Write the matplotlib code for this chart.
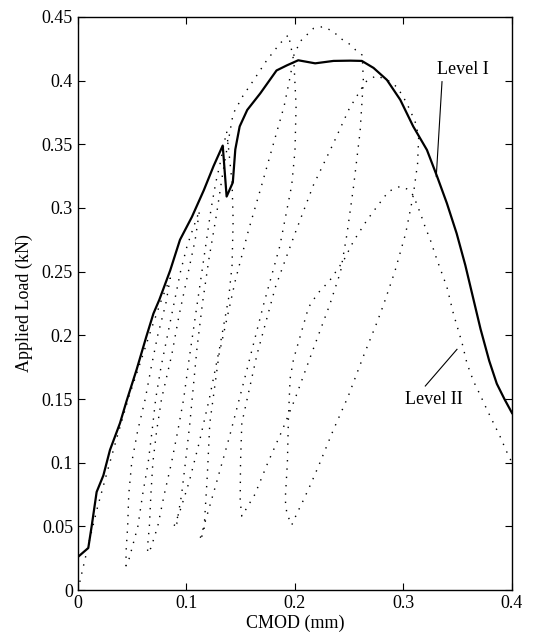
import matplotlib
matplotlib.use("Agg")
import matplotlib.pyplot as plt

plt.rcParams['font.family'] = ['Liberation Serif', 'DejaVu Serif']
plt.rcParams['font.size'] = 13

# Level I (solid) - CMOD (mm), load (kN)
level1_cmod = [0.0, 0.0095, 0.0126, 0.0172, 0.0234, 0.0295, 0.0387, 0.045, 0.054, 0.063,
               0.0695, 0.075, 0.085, 0.094, 0.105, 0.116, 0.125, 0.1334, 0.137, 0.1427,
               0.145, 0.149, 0.156, 0.168, 0.183, 0.1925, 0.203, 0.2186, 0.2355, 0.251,
               0.2616, 0.2724, 0.2847, 0.297, 0.309, 0.3216, 0.331, 0.34, 0.349, 0.357,
               0.364, 0.371, 0.379, 0.386, 0.393, 0.4]
level1_load = [0.026, 0.033, 0.05, 0.077, 0.09, 0.11, 0.131, 0.149, 0.173, 0.199,
               0.217, 0.228, 0.251, 0.275, 0.293, 0.314, 0.333, 0.349, 0.309, 0.32,
               0.346, 0.364, 0.377, 0.39, 0.408, 0.412, 0.416, 0.4136, 0.4155, 0.4157,
               0.4155, 0.41, 0.4006, 0.385, 0.364, 0.3456, 0.3247, 0.3037, 0.28, 0.255,
               0.23, 0.205, 0.18, 0.162, 0.15, 0.139]

# Level II (dotted) - loading / unloading cycles, in test order
env_a = [(0, 0), (0.004, 0.015), (0.01, 0.037), (0.018, 0.065), (0.027, 0.093), (0.037, 0.123),
         (0.047, 0.152), (0.058, 0.18), (0.068, 0.206), (0.077, 0.228), (0.085, 0.245)]
unload_1 = [(0.081, 0.225), (0.0735, 0.2), (0.0675, 0.175), (0.062, 0.15), (0.055, 0.125),
            (0.0495, 0.1), (0.0468, 0.075), (0.0458, 0.05), (0.0443, 0.03), (0.0443, 0.019)]
reload_1 = [(0.0473, 0.025), (0.0552, 0.05), (0.0596, 0.075), (0.0647, 0.1), (0.0683, 0.125),
            (0.0716, 0.15), (0.0765, 0.175), (0.0825, 0.2), (0.0885, 0.225), (0.0945, 0.25),
            (0.1005, 0.27), (0.1065, 0.285), (0.112, 0.298)]
unload_2 = [(0.108, 0.275), (0.1005, 0.245), (0.093, 0.215), (0.0865, 0.185), (0.077, 0.15),
            (0.0725, 0.125), (0.069, 0.1), (0.0672, 0.075), (0.0658, 0.05), (0.0642, 0.035),
            (0.0642, 0.029)]
reload_2 = [(0.0672, 0.033), (0.0735, 0.05), (0.0795, 0.075), (0.0862, 0.1), (0.092, 0.125),
            (0.0974, 0.15), (0.1022, 0.18), (0.1073, 0.21), (0.1125, 0.24), (0.1177, 0.27),
            (0.1228, 0.3), (0.127, 0.32), (0.131, 0.335), (0.135, 0.352), (0.137, 0.36)]
unload_3 = [(0.139, 0.345), (0.142, 0.32), (0.143, 0.29), (0.142, 0.255), (0.139, 0.23),
            (0.1305, 0.19), (0.121, 0.15), (0.1115, 0.115), (0.1025, 0.085), (0.094, 0.062),
            (0.088, 0.049)]
reload_3 = [(0.091, 0.052), (0.0955, 0.075), (0.099, 0.1), (0.103, 0.13), (0.1063, 0.16),
            (0.1097, 0.19), (0.1147, 0.225), (0.1207, 0.26), (0.1277, 0.295), (0.133, 0.325),
            (0.138, 0.35), (0.143, 0.374), (0.152, 0.388), (0.162, 0.4005), (0.174, 0.416),
            (0.186, 0.429), (0.194, 0.436)]
unload_4 = [(0.199, 0.415), (0.201, 0.38), (0.2, 0.345), (0.197, 0.318), (0.186, 0.27),
            (0.171, 0.224), (0.1548, 0.17), (0.1395, 0.12), (0.1262, 0.08), (0.116, 0.05),
            (0.112, 0.039)]
reload_4 = [(0.116, 0.045), (0.1192, 0.09), (0.1215, 0.131), (0.13, 0.185), (0.145, 0.243),
            (0.157, 0.282), (0.169, 0.317), (0.18, 0.35), (0.19, 0.38), (0.196, 0.405),
            (0.199, 0.42), (0.205, 0.431), (0.217, 0.441), (0.226, 0.4424), (0.2355, 0.4385),
            (0.2417, 0.4333), (0.2494, 0.4293), (0.256, 0.424), (0.262, 0.42)]
unload_5 = [(0.263, 0.4), (0.26, 0.36), (0.254, 0.317), (0.248, 0.28), (0.242, 0.25),
            (0.232, 0.224), (0.215, 0.185), (0.2, 0.15), (0.188, 0.125), (0.175, 0.1),
            (0.163, 0.075), (0.151, 0.058)]
reload_5 = [(0.1495, 0.07), (0.1498, 0.1), (0.151, 0.131), (0.165, 0.185), (0.182, 0.238),
            (0.2, 0.28), (0.217, 0.318), (0.235, 0.35), (0.25, 0.378), (0.265, 0.399),
            (0.275, 0.404), (0.286, 0.4), (0.294, 0.395), (0.3, 0.387), (0.306, 0.377),
            (0.311, 0.367), (0.314, 0.356)]
unload_6 = [(0.313, 0.335), (0.309, 0.31), (0.302, 0.28), (0.292, 0.25), (0.2816, 0.224),
            (0.2755, 0.21), (0.263, 0.1835), (0.249, 0.152), (0.2355, 0.126), (0.223, 0.1),
            (0.2155, 0.085), (0.208, 0.071), (0.2017, 0.06), (0.197, 0.051)]
reload_6 = [(0.1925, 0.06), (0.191, 0.071), (0.193, 0.1), (0.194, 0.136), (0.1955, 0.166),
            (0.1986, 0.181), (0.203, 0.194), (0.2125, 0.222), (0.221, 0.233), (0.232, 0.243),
            (0.245, 0.259), (0.254, 0.274), (0.266, 0.29), (0.2755, 0.301), (0.2862, 0.313),
            (0.297, 0.317), (0.303, 0.315), (0.309, 0.31)]
softening = [(0.3155, 0.296), (0.32, 0.285), (0.3247, 0.275), (0.331, 0.259), (0.34, 0.238),
             (0.346, 0.217), (0.354, 0.194), (0.3585, 0.178), (0.3646, 0.1638), (0.3708, 0.153),
             (0.377, 0.1415), (0.383, 0.131), (0.389, 0.1206), (0.395, 0.1088), (0.4, 0.1)]

level2 = (env_a + unload_1 + reload_1 + unload_2 + reload_2 + unload_3 + reload_3
          + unload_4 + reload_4 + unload_5 + reload_5 + unload_6 + reload_6 + softening)
level2_cmod = [p[0] for p in level2]
level2_load = [p[1] for p in level2]

xticks = [0, 0.1, 0.2, 0.3, 0.4]
xtick_labels = ['0', '0.1', '0.2', '0.3', '0.4']
yticks = [0, 0.05, 0.1, 0.15, 0.2, 0.25, 0.3, 0.35, 0.4, 0.45]
ytick_labels = ['0', '0.05', '0.1', '0.15', '0.2', '0.25', '0.3', '0.35', '0.4', '0.45']

fig = plt.figure(figsize=(5.43, 6.36), dpi=100)
ax = fig.add_axes([0.1436, 0.0723, 0.7993, 0.901])

ax.plot(level2_cmod, level2_load, color='black', linewidth=1.0, linestyle=(0, (1, 5)))
ax.plot(level1_cmod, level1_load, color='black', linewidth=1.6)

ax.set_xlim(0, 0.4)
ax.set_ylim(0, 0.45)
ax.set_xticks(xticks)
ax.set_xticklabels(xtick_labels)
ax.set_yticks(yticks)
ax.set_yticklabels(ytick_labels)
ax.tick_params(direction='in', top=True, right=True, length=5, width=0.8, labelsize=13)
for s in ax.spines.values():
    s.set_linewidth(1.0)

ax.set_xlabel('CMOD (mm)', fontsize=13, labelpad=2)
ax.set_ylabel('Applied Load (kN)', fontsize=13, labelpad=6)

# labels with leader lines
ax.text(0.3547, 0.4084, 'Level I', fontsize=13, ha='center', va='center')
ax.plot([0.3355, 0.3302], [0.3992, 0.3247], color='black', linewidth=0.8)
ax.text(0.3284, 0.1496, 'Level II', fontsize=13, ha='center', va='center')
ax.plot([0.3201, 0.3493], [0.1602, 0.189], color='black', linewidth=0.8)

fig.savefig('out.png', dpi=100)
